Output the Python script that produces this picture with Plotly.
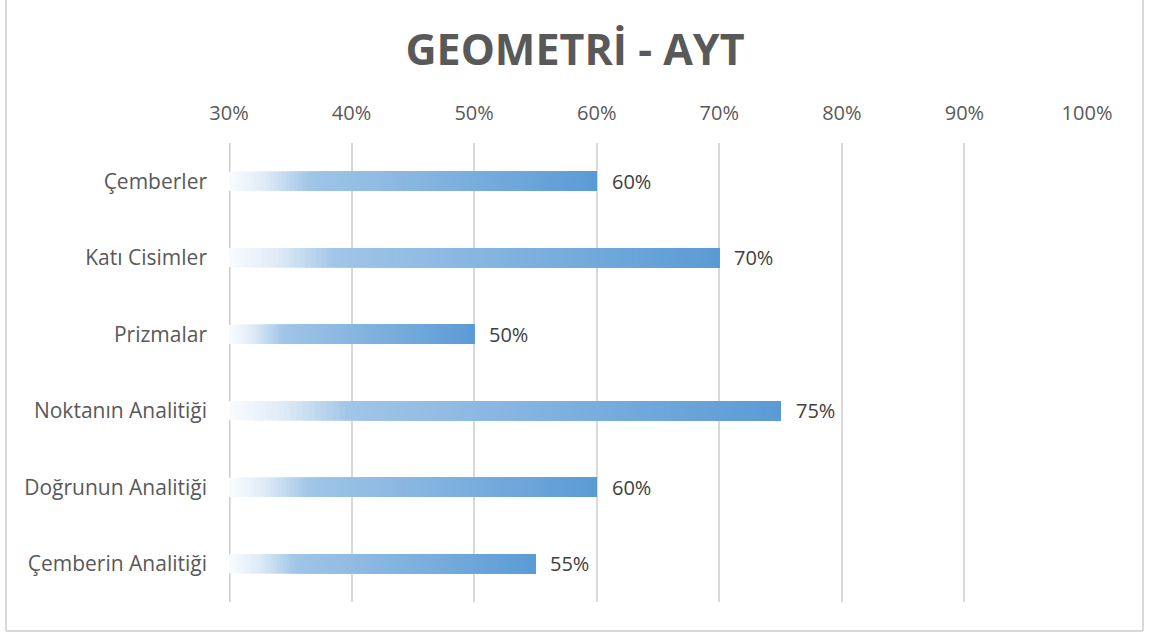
import plotly.graph_objects as go
import numpy as np

categories = ['Çemberler', 'Katı Cisimler', 'Prizmalar', 'Noktanın Analitiği',
              'Doğrunun Analitiği', 'Çemberin Analitiği']
values = [60, 70, 50, 75, 60, 55]
tick_vals = [30, 40, 50, 60, 70, 80, 90, 100]
tick_text = ['30%', '40%', '50%', '60%', '70%', '80%', '90%', '100%']

base_val = 30
n_seg = 90

# gradient stops (position along bar, rgb)
stops = [(0.0, (250, 252, 255)), (0.1, (222, 234, 246)), (0.22, (160, 197, 231)),
         (1.0, (91, 155, 213))]


def grad_color(t):
    for (p0, c0), (p1, c1) in zip(stops[:-1], stops[1:]):
        if p0 <= t <= p1:
            f = (t - p0) / (p1 - p0)
            c = [round(a + (b - a) * f) for a, b in zip(c0, c1)]
            return f'rgb({c[0]},{c[1]},{c[2]})'
    return 'rgb(91,155,213)'


fig = go.Figure()

vals = np.array(values, dtype=float)
seg_len = (vals - base_val) / n_seg
# each slice runs to the bar end, the next one covers it -> no seams
for k in range(n_seg):
    start = base_val + seg_len * k
    fig.add_trace(go.Bar(
        y=categories, x=vals - start, base=start,
        orientation='h', width=0.25,
        marker=dict(color=grad_color((k + 0.5) / n_seg), line_width=0),
        showlegend=False, hoverinfo='skip'))

# data labels
for cat, v in zip(categories, values):
    fig.add_annotation(x=v, y=cat, text=f'{v}%', showarrow=False,
                       xanchor='left', xshift=13,
                       font=dict(family='Open Sans', size=20, color='#404040'))

fig.update_layout(
    width=1150, height=637,
    barmode='overlay',
    paper_bgcolor='white', plot_bgcolor='white',
    margin=dict(l=229, r=63, t=143, b=35),
    title=dict(text='<b>GEOMETRİ - AYT</b>', x=0.5, xref='container', xanchor='center',
               y=1 - 50 / 637, yref='container', yanchor='middle',
               font=dict(family='Open Sans', size=43, color='#595959')),
    xaxis=dict(side='top', range=[30, 100], tickvals=tick_vals, ticktext=tick_text,
               showgrid=True, gridcolor='#d9d9d9', gridwidth=2, zeroline=False,
               tickfont=dict(family='Open Sans', size=20, color='#595959'),
               ticks='', ticklabelstandoff=18, fixedrange=True),
    yaxis=dict(autorange='reversed', showgrid=False, showline=False,
               tickfont=dict(family='Open Sans', size=21, color='#595959'),
               ticks='', ticklabelstandoff=21, fixedrange=True),
    font=dict(family='Open Sans'),
)

# left axis line at 30%
fig.add_shape(type='line', xref='x', yref='paper', x0=30, x1=30, y0=0, y1=1,
              line=dict(color='#cccccc', width=3), layer='below')

# outer chart border (left, bottom, right; top is cut off in the original)
bx0, bx1 = (6 - 229) / 858, (1143 - 229) / 858
by0, by1 = (602 - 631) / 459, (602 + 5) / 459
for x0, y0, x1, y1 in [(bx0, by1, bx0, by0), (bx0, by0, bx1, by0), (bx1, by0, bx1, by1)]:
    fig.add_shape(type='line', xref='paper', yref='paper', x0=x0, y0=y0, x1=x1, y1=y1,
                  line=dict(color='#d9d9d9', width=2))

fig.write_html('out.html', config={'displayModeBar': False},
               post_script="document.body.style.margin='0';")
